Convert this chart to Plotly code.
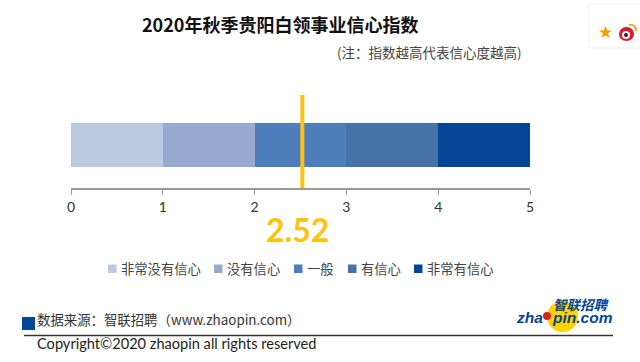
import plotly.graph_objects as go

# Data
levels = ["非常没有信心", "没有信心", "一般", "有信心", "非常有信心"]
band_widths = [1, 1, 1, 1, 1]
colors = ["#BCC8E0", "#96A9CF", "#4E7EBB", "#4672A6", "#044695"]
index_value = 2.52
tick_values = [0, 1, 2, 3, 4, 5]
title_text = "2020年秋季贵阳白领事业信心指数"
note_text = "(注：指数越高代表信心度越高)"
source_text = "数据来源：智联招聘（www.zhaopin.com）"
copyright_text = "Copyright©2020 zhaopin all rights reserved"

# Layout geometry (pixels)
W, H = 640, 362
L, R, T, B = 71, 530, 95, 188
CJK = "Noto Sans CJK SC"
LAT = "Lato"
legend_marker_left = [108, 214, 294, 348, 414]


def px(x):
    return (x - L) / (R - L)


def py(y):
    return (B - y) / (B - T)


fig = go.Figure()
for name, w, c in zip(levels, band_widths, colors):
    fig.add_trace(go.Bar(
        x=[w], y=[0], name=name, orientation="h", width=44,
        marker=dict(color=c, line=dict(width=0)), hoverinfo="skip", showlegend=False,
    ))

fig.add_trace(go.Scatter(
    x=[index_value, index_value], y=[-64, 50], mode="lines",
    line=dict(color="#FFC20E", width=4), cliponaxis=False,
    showlegend=False, hoverinfo="skip",
))


def note(x, y, text, size, color="#333333", family=CJK, anchor="left", **kw):
    fig.add_annotation(
        xref="paper", yref="paper", x=px(x), y=py(y), text=text, showarrow=False,
        xanchor=anchor, yanchor="middle", font=dict(size=size, color=color, family=family),
        borderpad=0, borderwidth=0, **kw,
    )


note(280, 24, f"<b>{title_text}</b>", 18, "#111111", anchor="center")
note(522, 52, note_text, 13.5, "#444444", anchor="right")
fig.add_annotation(
    x=index_value, xref="x", xshift=-5, yref="paper", y=py(229),
    text=f"<b>{index_value}</b>", showarrow=False, xanchor="center", yanchor="middle",
    font=dict(size=32, color="#FFC20E", family=LAT),
)
note(37, 319, source_text, 13.4, "#333333")
note(37, 343, copyright_text, 14.6, "#222222", family=LAT)

shapes = [
    dict(type="rect", x0=px(22), x1=px(35), y0=py(317), y1=py(330), fillcolor="#044695", line_width=0),
    dict(type="line", x0=px(24), x1=px(613), y0=py(335.5), y1=py(335.5), line=dict(color="#333333", width=1.5)),
    dict(type="circle", x0=px(547), x1=px(578), y0=py(301), y1=py(332), fillcolor="#FFD200", line_width=0),
    dict(type="circle", x0=px(543), x1=px(551), y0=py(312), y1=py(320), fillcolor="#D8232A", line_width=0),
    dict(type="rect", x0=px(589), x1=px(650), y0=py(4), y1=py(48), fillcolor="#FFFFFF", line=dict(color="#F0F0F0", width=1)),
    dict(type="circle", x0=px(619), x1=px(634), y0=py(27), y1=py(41), fillcolor="#E6162D", line_width=0),
    dict(type="circle", x0=px(622), x1=px(630), y0=py(31), y1=py(39), fillcolor="#FFFFFF", line_width=0),
    dict(type="circle", x0=px(624), x1=px(628), y0=py(33), y1=py(37), fillcolor="#222222", line_width=0),
    dict(type="path",
         path=f"M {px(629)} {py(25)} Q {px(636)} {py(24)} {px(636)} {py(31)}",
         line=dict(color="#F5A623", width=2)),
]

for left, name, c in zip(legend_marker_left, levels, colors):
    shapes.append(dict(type="rect", x0=px(left), x1=px(left + 8.5), y0=py(264.5), y1=py(273),
                       fillcolor=c, line_width=0))
    note(left + 13, 268.5, name, 13.3, "#444444")

for s in shapes:
    s["xref"] = s["yref"] = "paper"
    s["layer"] = "below"

note(516, 317, "<b><i>zha</i></b>", 15.5, "#044695", family="Liberation Sans")
note(552, 317, "<b><i>pin.com</i></b>", 15.5, "#044695", family="Liberation Sans")
note(553, 303.5, "<b><i>智联招聘</i></b>", 13.5, "#044695")
note(605, 32, "★", 17, "#F5A000", family="DejaVu Sans", anchor="center")

fig.update_layout(
    width=W, height=H, barmode="stack", plot_bgcolor="white", paper_bgcolor="white",
    margin=dict(l=L, r=W - R, t=T, b=H - B, pad=0, autoexpand=False),
    shapes=shapes, bargap=0, showlegend=False,
    xaxis=dict(
        range=[0, 5], tickvals=tick_values, ticks="outside", ticklen=5, tickcolor="#999999",
        tickwidth=1, showline=True, linecolor="#999999", linewidth=1.5, showgrid=False,
        zeroline=False, tickfont=dict(size=14, color="#333333", family=LAT),
    ),
    yaxis=dict(range=[-43, 50], visible=False, fixedrange=True),
)

fig.write_html("out.html", config={"displayModeBar": False},
               post_script="document.body.style.margin='0';")
